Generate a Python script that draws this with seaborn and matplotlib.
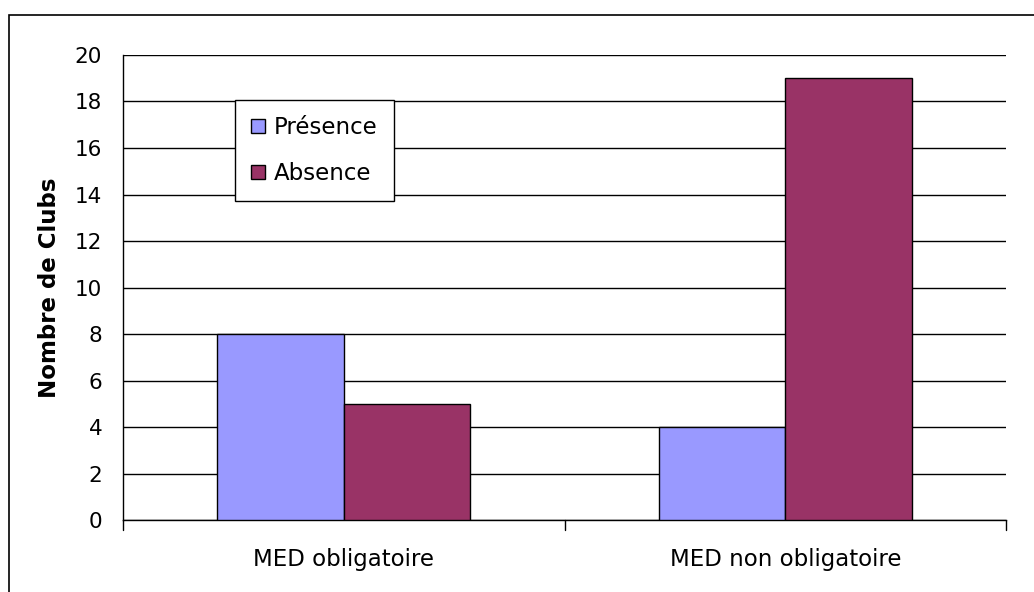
import matplotlib
matplotlib.use("Agg")
import matplotlib.pyplot as plt
from matplotlib.patches import Rectangle
import seaborn as sns
import pandas as pd

categories = ["MED obligatoire", "MED non obligatoire"]
series = ["Présence", "Absence"]
presence = [8, 4]
absence = [5, 19]
yticks = [0, 2, 4, 6, 8, 10, 12, 14, 16, 18, 20]

colors = {"Présence": "#9999FF", "Absence": "#993366"}

df = pd.DataFrame({
    "cat": categories * 2,
    "serie": [series[0]] * len(categories) + [series[1]] * len(categories),
    "val": presence + absence,
})

sns.set_style("white")
plt.rcParams["font.family"] = ["DejaVu Sans"]
plt.rcParams["text.color"] = "black"
plt.rcParams["xtick.color"] = "black"
plt.rcParams["ytick.color"] = "black"
plt.rcParams["axes.labelcolor"] = "black"

fig = plt.figure(figsize=(10.34, 5.92), dpi=100)
ax = fig.add_axes([0.119, 0.1216, 0.854, 0.7855])

# outer chart-area frame
fig.patches.append(Rectangle((0.0087, -0.05), 1.2, 1.0247, transform=fig.transFigure,
                             fill=False, edgecolor="black", linewidth=1.2, zorder=0))

sns.barplot(data=df, x="cat", y="val", hue="serie", order=categories,
            hue_order=series, palette=colors, width=0.573, gap=0,
            edgecolor="black", linewidth=1.0, saturation=1, ax=ax, zorder=3)

ax.set_xlim(-0.5, 1.5)
ax.set_ylim(0, 20)
ax.set_yticks(yticks)
ax.set_yticklabels([str(v) for v in yticks], fontsize=15.5)
ax.yaxis.grid(True, color="black", linewidth=1.0, zorder=0)
ax.set_axisbelow(True)

# category ticks sit at the boundaries between groups
ax.set_xticks([0, 1])
ax.set_xticklabels(categories, fontsize=16.5)
ax.tick_params(axis="x", length=0, pad=20)
for xb in [-0.5, 0.5, 1.5]:
    ax.plot([xb, xb], [0, -0.021], transform=ax.get_xaxis_transform(),
            color="black", linewidth=1.0, clip_on=False)
ax.tick_params(axis="y", length=7, width=1.0, color="black", direction="out", pad=8)

for s in ["top", "right"]:
    ax.spines[s].set_visible(False)
for s in ["left", "bottom"]:
    ax.spines[s].set_color("black")
    ax.spines[s].set_linewidth(1.0)

ax.set_xlabel("")
ax.set_ylabel("Nombre de Clubs", fontsize=16.5, fontweight="bold", labelpad=10)

leg = ax.legend(loc="upper left", bbox_to_anchor=(0.127, 0.903), fontsize=16.5,
                frameon=True, fancybox=False, shadow=False, framealpha=1,
                handlelength=0.6, handleheight=0.6, handletextpad=0.4,
                labelspacing=1.0, borderpad=0.7, borderaxespad=0)
leg.get_frame().set_edgecolor("black")
leg.get_frame().set_linewidth(1.0)
leg.set_zorder(5)

fig.savefig("out.png", dpi=100)
